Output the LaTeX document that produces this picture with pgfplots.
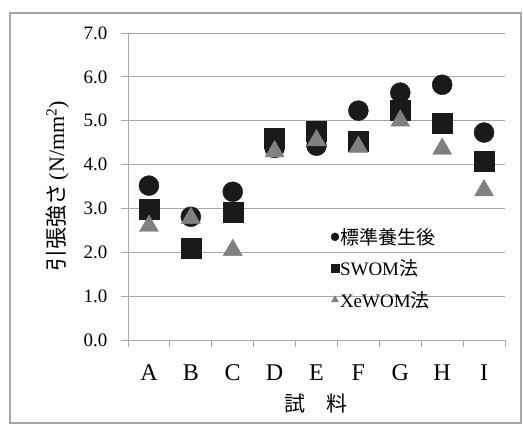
\documentclass[border=0pt]{standalone}
\usepackage{fontspec}
\setmainfont{Liberation Serif}
\newfontfamily\jp{Noto Sans CJK JP}
\usepackage{pgfplots}
\pgfplotsset{compat=1.18}

\definecolor{mkblack}{HTML}{1A1A1A}
\definecolor{mkgray}{HTML}{808080}
\definecolor{gridgray}{HTML}{A8A8A8}

\begin{document}
\begin{tikzpicture}[x=1pt,y=1pt]
\useasboundingbox (0,0) rectangle (523,426);
\draw[gray!70, line width=1.5pt] (10,3) rectangle (521,413);
\begin{axis}[
  at={(128pt,86pt)}, anchor=south west,
  scale only axis, width=377pt, height=307pt,
  xmin=0.5, xmax=9.5, ymin=0, ymax=7,
  axis lines*=left,
  axis line style={gridgray, line width=0.8pt},
  xtick={0.5,1.5,...,9.5},
  x tick label as interval,
  xticklabels={A,B,C,D,E,F,G,H,I},
  ytick={0,1,...,7},
  tick align=outside,
  major tick length=7pt,
  tick style={gridgray, line width=0.8pt},
  ymajorgrids,
  grid style={gridgray, line width=0.8pt},
  /pgf/number format/assume math mode=true,
  yticklabel={\pgfmathprintnumber[fixed,fixed zerofill,precision=1]{\tick}},
  yticklabel style={font=\fontsize{19}{19}\selectfont, xshift=-10pt},
  xticklabel style={font=\fontsize{24}{24}\selectfont, yshift=-14pt},
  xlabel={\jp 試\hspace{1em}料},
  xlabel style={font=\fontsize{21}{21}\selectfont, yshift=-6pt},
  ylabel={{\jp 引張強さ}\,(N/mm\textsuperscript{2})},
  ylabel style={font=\fontsize{22}{22}\selectfont, yshift=8pt},
  legend style={at={(0.53,0.375)}, anchor=north west, draw=none, fill=none,
    font=\fontsize{19}{19}\selectfont, row sep=12pt,
    nodes={inner sep=1pt}},
  legend cell align=left,
  legend image code/.code={\draw[#1] plot coordinates {(0pt,0pt)};},
  legend image post style={mark size=4pt},
]
\addplot[only marks, mark=*, mark size=10pt, mkblack, mark options={draw=mkblack, fill=mkblack}]
  coordinates {(1,3.52) (2,2.81) (3,3.38) (4,4.38) (5,4.43) (6,5.23) (7,5.64) (8,5.82) (9,4.73)};
\addlegendentry{\jp 標準養生後}
\addplot[only marks, mark=square*, mark size=10pt, mkblack, mark options={draw=mkblack, fill=mkblack}]
  coordinates {(1,2.99) (2,2.10) (3,2.92) (4,4.60) (5,4.75) (6,4.54) (7,5.25) (8,4.95) (9,4.07)};
\addlegendentry{SWOM{\jp 法}}
\addplot[only marks, mark=triangle*, mark size=11pt, mkgray, mark options={draw=mkgray, fill=mkgray}]
  coordinates {(1,2.60) (2,2.78) (3,2.05) (4,4.30) (5,4.55) (6,4.40) (7,5.00) (8,4.36) (9,3.41)};
\addlegendentry{XeWOM{\jp 法}}
\end{axis}
\end{tikzpicture}
\end{document}
